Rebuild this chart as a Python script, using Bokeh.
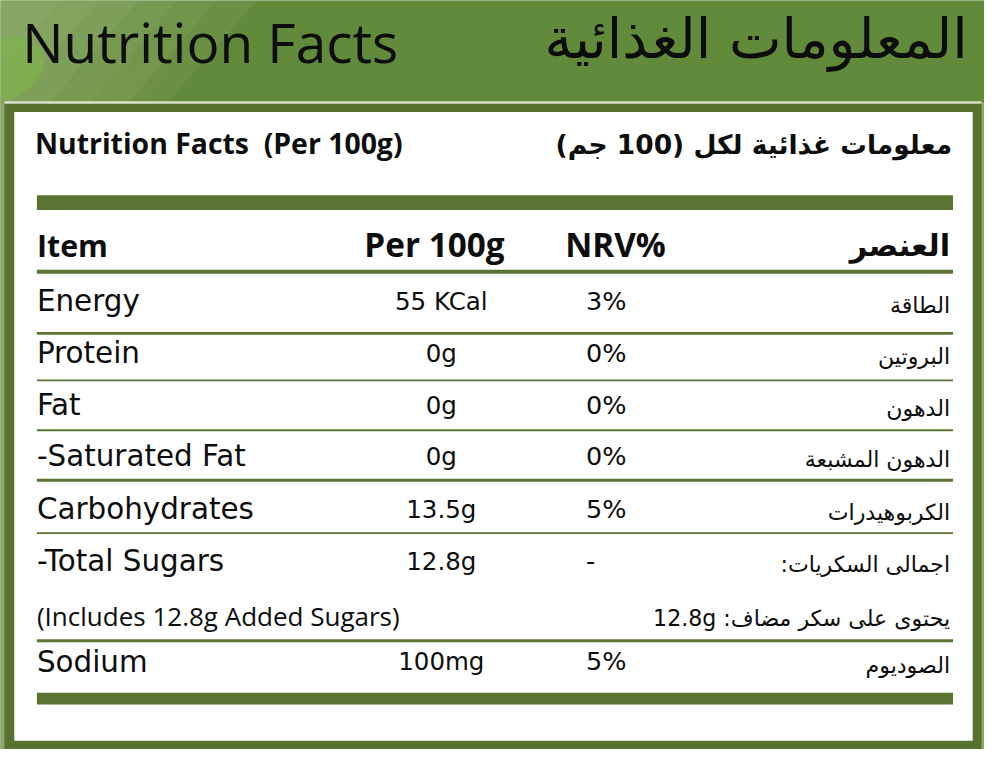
from bokeh.plotting import figure
from bokeh.models import Range1d, ColumnDataSource
from bokeh.core.properties import value
from bokeh.embed import file_html
from bokeh.resources import INLINE

# ---------------- data ----------------
title_en = "Nutrition Facts"
title_ar = "المعلومات الغذائية"
sub_en = "Nutrition Facts\u00a0 (Per 100g)"
sub_ar = "معلومات غذائية لكل (100 جم)"
headers = ["Item", "Per 100g", "NRV%", "العنصر"]

items_en = ["Energy", "Protein", "Fat", "-Saturated Fat", "Carbohydrates",
            "-Total Sugars", "(Includes 12.8g Added Sugars)", "Sodium"]
per_100g = ["55 KCal", "0g", "0g", "0g", "13.5g", "12.8g", "", "100mg"]
nrv = ["3%", "0%", "0%", "0%", "5%", "-", "", "5%"]
items_ar = ["الطاقة", "البروتين", "الدهون", "الدهون المشبعة", "الكربوهيدرات",
            "اجمالى السكريات:\u200f", "\u202bيحتوى على سكر مضاف: 12.8g\u202c", "الصوديوم"]

# ---------------- layout (reference pixel coordinates) ----------------
W, H = 1000, 765
row_y = [320, 373, 426, 478, 532, 585, 640, 688]
sep_y = [277, 340, 388, 439, 490, 544, 654]
sep_h = [4, 3, 2, 2, 3, 2, 3]
S = 0.98   # font scale (figure is 984x749)
K = 0.42   # baseline correction (fraction of font size)

DARK = "#57722f"
BAR = "#5a7434"
HEAD = "#618a3b"
INK = "#0d0d0d"
LAT = "Open Sans"
ROW = "DejaVu Sans"
ARA = "DejaVu Sans"


def by(baseline, size):
    return baseline - K * size


def fs(size):
    return f"{size * S:.1f}px"


p = figure(width=984, height=749, x_range=Range1d(0, W), y_range=Range1d(H, 0),
           output_backend="svg", toolbar_location=None, min_border=0)
p.axis.visible = False
p.grid.visible = False
p.outline_line_color = None
p.background_fill_color = HEAD
p.border_fill_color = HEAD

# header background and soft decoration (light gradient on the left, leaf)
p.quad(left=[0], right=[W], top=[0], bottom=[H], fill_color=HEAD, line_color=None)
for w in [60, 100, 140, 180, 220, 260]:
    p.patch([0, w, w - 90, 0], [0, 0, 104, 104], fill_color="#d2e2b8", fill_alpha=0.07,
            line_color=None)
for w in [150, 190]:
    p.patch([w - 110, w, w - 40, w - 120], [104, 30, 104, 104], fill_color="#b7a64a",
            fill_alpha=0.08, line_color=None)
p.patch([0, 22, 42, 44, 30, 10, 0], [40, 36, 50, 72, 90, 102, 102],
        fill_color="#7fb24c", fill_alpha=0.7, line_color=None)
p.quad(left=[0], right=[5], top=[104], bottom=[H], fill_color="#8ea86b", line_color=None)
p.quad(left=[996], right=[W], top=[104], bottom=[H], fill_color="#8ea86b", line_color=None)

# label box
p.quad(left=[4], right=[997], top=[104], bottom=[H], fill_color=DARK, line_color=None)
p.quad(left=[4], right=[997], top=[103], bottom=[105.5], fill_color="#d7e0c8", line_color=None)
p.quad(left=[14], right=[988], top=[114], bottom=[756], fill_color="white", line_color=None)

# thick bars
p.quad(left=[37, 37], right=[968, 968], top=[199, 707], bottom=[214, 719],
       fill_color=BAR, line_color=None)

# separators
sep = ColumnDataSource(dict(l=[37] * len(sep_y), r=[968] * len(sep_y),
                            t=[y - h / 2 for y, h in zip(sep_y, sep_h)],
                            b=[y + h / 2 for y, h in zip(sep_y, sep_h)]))
p.quad(left="l", right="r", top="t", bottom="b", source=sep, fill_color=BAR, line_color=None)


def txt(x, base, t, font, size, align, bold=False):
    p.text(x=[x], y=[by(base, size)], text=[t], text_font=value(font), text_font_size=fs(size),
           text_font_style="bold" if bold else "normal", text_color=INK,
           text_baseline="alphabetic", text_align=align)


# titles
txt(22, 65, title_en, LAT, 56, "left")
txt(983, 63, title_ar, ARA, 57, "right")
txt(35, 158, sub_en, LAT, 29, "left", bold=True)
txt(967, 158, sub_ar, ARA, 27, "right", bold=True)

# column headers
hx = [37, 441, 625, 965]
ha = ["left", "center", "center", "right"]
hf = [LAT, LAT, LAT, ARA]
hs = [31, 34, 34, 31]
for t, x, a, f, s in zip(headers, hx, ha, hf, hs):
    txt(x, 263, t, f, s, a, bold=True)

# rows
small = [s.startswith("(") for s in items_en]
lab_size = [26.5 if s else 30 for s in small]
lab_font = [LAT if s else ROW for s in small]
VAL, NRV_S, AR_S = 25, 26, 22.5
src = ColumnDataSource(dict(
    yl=[by(y, s) for y, s in zip(row_y, lab_size)],
    yv=[by(y - 2, VAL) for y in row_y],
    yn=[by(y - 2, NRV_S) for y in row_y],
    ya=[by(y, AR_S) for y in row_y],
    en=items_en, v=per_100g, nrv=nrv, ar=items_ar,
    fs=[fs(s) for s in lab_size], ff=lab_font,
))
p.text(x=37, y="yl", text="en", source=src, text_font="ff", text_font_size="fs",
       text_color=INK, text_baseline="alphabetic", text_align="left")
p.text(x=448, y="yv", text="v", source=src, text_font=value(ROW), text_font_size=fs(VAL),
       text_color=INK, text_baseline="alphabetic", text_align="center")
p.text(x=595, y="yn", text="nrv", source=src, text_font=value(ROW), text_font_size=fs(NRV_S),
       text_color=INK, text_baseline="alphabetic", text_align="left")
p.text(x=965, y="ya", text="ar", source=src, text_font=value(ARA), text_font_size=fs(AR_S),
       text_color=INK, text_baseline="alphabetic", text_align="right")

open("out.html", "w").write(file_html(p, INLINE))
